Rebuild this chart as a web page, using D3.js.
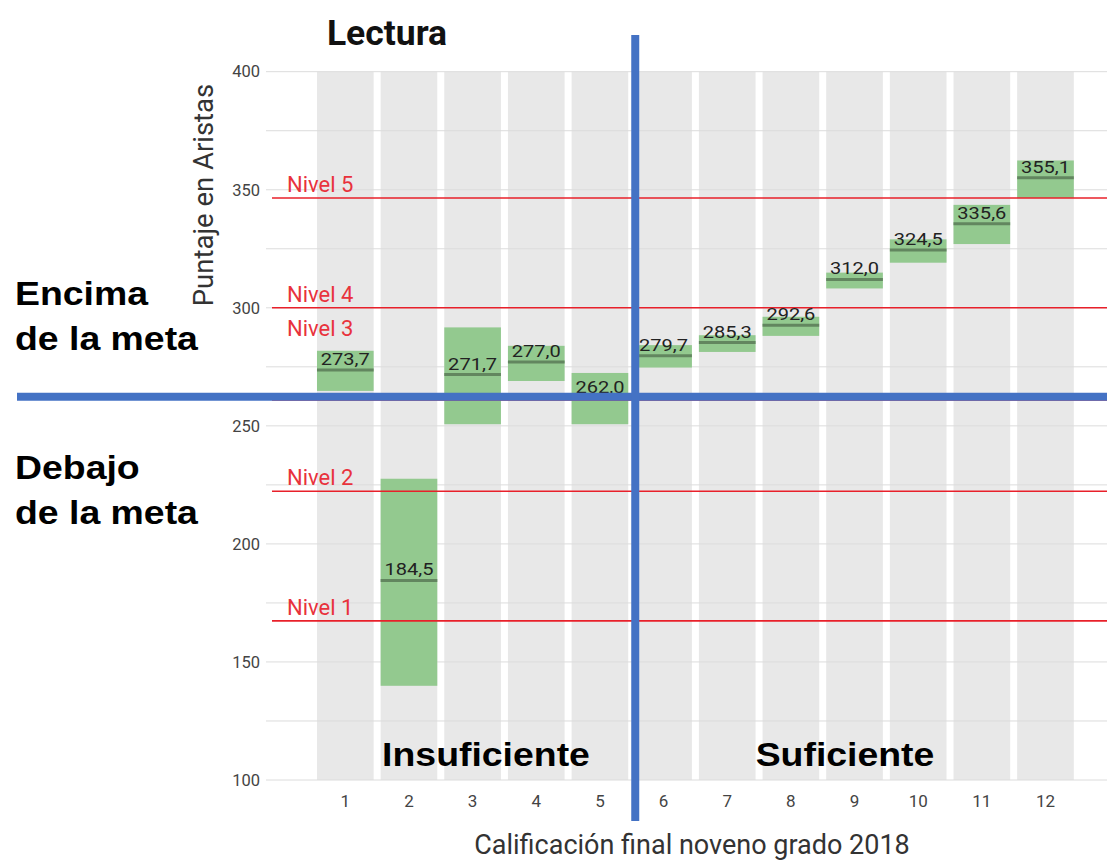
<!DOCTYPE html>
<html>
<head>
<meta charset="utf-8">
<script src="https://cdn.jsdelivr.net/npm/d3@7"></script>
<style>
  html, body { margin: 0; padding: 0; background: #fff; }
  svg { display: block; }
</style>
</head>
<body>
<svg id="chart" width="1107" height="860"></svg>
<script>
// ---------------- DATA ----------------
const categories = ["1","2","3","4","5","6","7","8","9","10","11","12"];
const medians = [273.7, 184.5, 271.7, 277.0, 262.0, 279.7, 285.3, 292.6, 312.0, 324.5, 335.6, 355.1];
const lows    = [264.8, 139.9, 250.7, 269.0, 250.7, 274.7, 281.3, 288.1, 308.2, 319.1, 327.0, 346.5];
const highs   = [281.8, 227.6, 291.7, 283.9, 272.4, 284.2, 288.4, 296.2, 314.9, 329.0, 343.6, 362.4];
const levelNames  = ["Nivel 1", "Nivel 2", "Nivel 3", "Nivel 4", "Nivel 5"];
const levelValues = [167.4, 222.3, 261.0, 300.0, 346.5];
const yTickValues = [100, 150, 200, 250, 300, 350, 400];
const yGridValues = [100, 125, 150, 175, 200, 225, 250, 275, 300, 325, 350, 375, 400];
const goalValue = 262.3;         // meta
const splitCategory = "6";       // first "Suficiente" grade
const titleText = "Lectura";
const yTitle = "Puntaje en Aristas";
const xTitle = "Calificación final noveno grado 2018";

// ---------------- CHART ----------------
const svg = d3.select("#chart");
const W = 1107, H = 860;

const x = d3.scaleBand().domain(categories).range([313.8, 1077]).paddingInner(0.11).paddingOuter(0.05);
const y = d3.scaleLinear().domain([100, 400]).range([780, 71.7]);
const bw = x.bandwidth();
const locale = d3.formatLocale({decimal: ",", thousands: ".", grouping: [3], currency: ["", ""]});
const fmt = locale.format(".1f");

const FONT = "Roboto, 'Noto Sans', sans-serif";
const BOLD = "'Liberation Sans', Arial, sans-serif";

// gray category bands
svg.append("g").selectAll("rect").data(categories).join("rect")
  .attr("x", d => x(d)).attr("width", bw)
  .attr("y", y(400)).attr("height", y(100) - y(400))
  .attr("fill", "#e8e8e8");

// gridlines
svg.append("g").selectAll("line").data(yGridValues).join("line")
  .attr("x1", 266).attr("x2", W)
  .attr("y1", d => y(d)).attr("y2", d => y(d))
  .attr("stroke", "#dcdcdc").attr("stroke-width", 1);

// y axis tick labels
const yAxis = d3.axisLeft(y).tickValues(yTickValues).tickSize(0).tickPadding(0).tickFormat(d3.format("d"));
const gy = svg.append("g").attr("transform", "translate(260,0)").call(yAxis);
gy.select(".domain").remove();
gy.selectAll("text").attr("font-family", FONT).attr("font-size", 16.5).attr("fill", "#444");

// x axis tick labels
const xAxis = d3.axisBottom(x).tickSize(0).tickPadding(0);
const gx = svg.append("g").attr("transform", "translate(0,795)").call(xAxis);
gx.select(".domain").remove();
gx.selectAll("text").attr("font-family", FONT).attr("font-size", 17).attr("fill", "#444").attr("dy", "0.71em");

// green boxes
const boxes = svg.append("g");
boxes.selectAll("rect").data(categories).join("rect")
  .attr("x", d => x(d)).attr("width", bw)
  .attr("y", (d, i) => y(highs[i]))
  .attr("height", (d, i) => y(lows[i]) - y(highs[i]))
  .attr("fill", "#93c98f");
boxes.selectAll("line").data(categories).join("line")
  .attr("x1", d => x(d)).attr("x2", d => x(d) + bw)
  .attr("y1", (d, i) => y(medians[i])).attr("y2", (d, i) => y(medians[i]))
  .attr("stroke", "#62865f").attr("stroke-width", 3);

// red level lines
const lv = svg.append("g");
lv.selectAll("line").data(levelValues).join("line")
  .attr("x1", 272).attr("x2", W)
  .attr("y1", d => y(d)).attr("y2", d => y(d))
  .attr("stroke", "#e8202a").attr("stroke-width", 1.6);
lv.selectAll("text").data(levelNames).join("text")
  .attr("x", 287)
  .attr("y", (d, i) => {
    // the level that coincides with the goal line has its label just under the next level line
    if (Math.abs(levelValues[i] - goalValue) < 5 && i + 1 < levelValues.length) return y(levelValues[i + 1]) + 28;
    return y(levelValues[i]) - 6;
  })
  .attr("font-family", FONT).attr("font-size", 22).attr("fill", "#e8323c")
  .text(d => d);

// data labels
svg.append("g").selectAll("text").data(categories).join("text")
  .attr("transform", (d, i) => `translate(${x(d) + bw / 2},${y(medians[i]) - 5}) scale(1.18,1)`)
  .attr("text-anchor", "middle")
  .attr("font-family", FONT).attr("font-size", 17).attr("fill", "#222")
  .text((d, i) => fmt(medians[i]));

// blue guide lines
const blue = "#4472c4";
svg.append("line")
  .attr("x1", 17).attr("x2", W)
  .attr("y1", y(goalValue)).attr("y2", y(goalValue))
  .attr("stroke", blue).attr("stroke-width", 8);
svg.append("line")
  .attr("x1", x(splitCategory)).attr("x2", x(splitCategory))
  .attr("y1", 35).attr("y2", 821)
  .attr("stroke", blue).attr("stroke-width", 8);

// titles
svg.append("text").attr("x", 387).attr("y", 45).attr("text-anchor", "middle")
  .attr("font-family", FONT).attr("font-weight", 700).attr("font-size", 35.5).attr("fill", "#111")
  .text(titleText);
svg.append("text").attr("transform", "translate(213,195) rotate(-90)").attr("text-anchor", "middle")
  .attr("font-family", FONT).attr("font-size", 27.5).attr("fill", "#333")
  .text(yTitle);
svg.append("text").attr("x", 692).attr("y", 854).attr("text-anchor", "middle")
  .attr("font-family", FONT).attr("font-size", 27).attr("fill", "#333")
  .text(xTitle);

// overlay annotations
const notes = [
  {t: "Encima", x: 15, y: 305, a: "start"},
  {t: "de la meta", x: 15, y: 350, a: "start"},
  {t: "Debajo", x: 15, y: 479, a: "start"},
  {t: "de la meta", x: 15, y: 524, a: "start"},
  {t: "Insuficiente", x: 486, y: 766, a: "middle"},
  {t: "Suficiente", x: 845, y: 766, a: "middle"}
];
svg.append("g").selectAll("text").data(notes).join("text")
  .attr("transform", d => `translate(${d.x},${d.y}) scale(1.1,1)`)
  .attr("text-anchor", d => d.a)
  .attr("font-family", BOLD).attr("font-weight", 700).attr("font-size", 34).attr("fill", "#000")
  .text(d => d.t);
</script>
</body>
</html>
